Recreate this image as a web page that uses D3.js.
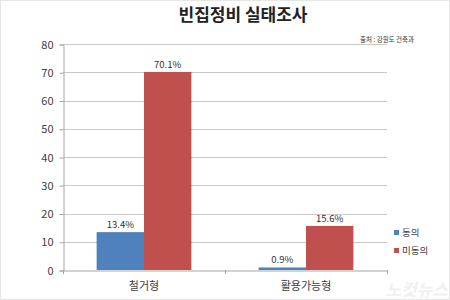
<!DOCTYPE html>
<html><head><meta charset="utf-8">
<script src="https://cdn.jsdelivr.net/npm/d3@7"></script>
<style>body{margin:0;background:#fff}svg{display:block}</style>
</head><body><svg id="c" width="450" height="300"></svg>
<script>
const categories = ["철거형", "활용가능형"];
const seriesNames = ["동의", "미동의"];
const agree = [13.4, 0.9];
const disagree = [70.1, 15.6];
const yTicks = [0, 10, 20, 30, 40, 50, 60, 70, 80];
const colors = ["#4F81BD", "#C0504D"];
const font = "'Noto Sans CJK KR', 'Noto Sans', sans-serif";

const svg = d3.select("#c");
svg.append("rect").attr("x",0.5).attr("y",0.5).attr("width",449).attr("height",299)
  .attr("fill","#fff").attr("stroke","#e6e6e6");

const pL = 63, pR = 387, pT = 44, pB = 270;
const x = d3.scaleBand().domain(categories).range([pL, pR]);
const xs = d3.scaleBand().domain(seriesNames).range([0, x.bandwidth()]).paddingInner(0).paddingOuter(0.71);
const y = d3.scaleLinear().domain([0, 80]).range([pB, pT]);

// gridlines
svg.append("g").selectAll("line").data(yTicks.filter(d=>d>0)).join("line")
  .attr("x1", pL).attr("x2", pR).attr("y1", d=>Math.round(y(d))+0.5).attr("y2", d=>Math.round(y(d))+0.5)
  .attr("stroke", "#c8c8c8");

// y axis
const yAxis = d3.axisLeft(y).tickValues(yTicks).tickSize(4).tickPadding(6);
const gy = svg.append("g").attr("transform", `translate(${pL+0.5},0.5)`).call(yAxis);
gy.select(".domain").attr("stroke", "#a6a6a6");
gy.selectAll(".tick line").attr("stroke", "#a6a6a6");
gy.selectAll("text").attr("font-family", font).attr("font-size", 11).attr("fill", "#404040");

// x axis
const xAxis = d3.axisBottom(x).tickSize(0).tickPadding(12);
const gx = svg.append("g").attr("transform", `translate(0,${pB+0.5})`).call(xAxis);
gx.select(".domain").attr("stroke", "#a6a6a6");
gx.selectAll("text").attr("font-family", font).attr("font-size", 11).attr("fill", "#404040");
// category boundary ticks
svg.append("g").selectAll("line").data([pL, x(categories[1]), pR]).join("line")
  .attr("x1", d=>Math.round(d)+0.5).attr("x2", d=>Math.round(d)+0.5)
  .attr("y1", pB).attr("y2", pB+4).attr("stroke", "#a6a6a6");

const data = categories.map((c,i)=>({c, vals:[agree[i], disagree[i]]}));
const groups = svg.append("g").selectAll("g").data(data).join("g")
  .attr("transform", d=>`translate(${x(d.c)},0)`);
groups.selectAll("rect").data(d=>d.vals.map((v,j)=>({k:seriesNames[j], v, j}))).join("rect")
  .attr("x", d=>xs(d.k)).attr("width", xs.bandwidth())
  .attr("y", d=>y(d.v)).attr("height", d=>pB - y(d.v))
  .attr("fill", d=>colors[d.j]);
groups.selectAll("text").data(d=>d.vals.map((v,j)=>({k:seriesNames[j], v, j}))).join("text")
  .attr("x", d=>xs(d.k)+xs.bandwidth()/2).attr("y", d=>y(d.v)-4)
  .attr("text-anchor","middle").attr("font-family", font).attr("font-size", 9.5).attr("fill","#303030")
  .text(d=>d.v.toFixed(1)+"%");

// title
svg.append("text").attr("x", 243).attr("y", 21).attr("text-anchor","middle")
  .attr("font-family", font).attr("font-weight","bold").attr("font-size", 17).attr("fill","#222")
  .text("빈집정비 실태조사");
svg.append("text").attr("x", 360).attr("y", 42)
  .attr("font-family", font).attr("font-size", 6.5).attr("fill","#333")
  .text("출처 : 강원도 건축과");

// legend
const lg = svg.append("g").selectAll("g").data(seriesNames).join("g")
  .attr("transform", (d,i)=>`translate(394,${233 + i*18})`);
lg.append("rect").attr("x",0).attr("y",-3).attr("width",5).attr("height",5).attr("fill",(d,i)=>colors[i]);
lg.append("text").attr("x",8).attr("y",3).attr("font-family", font).attr("font-size", 9.5).attr("fill","#404040").text(d=>d);

// watermark
svg.append("text").attr("x", 448).attr("y", 296).attr("text-anchor","end")
  .attr("font-family", font).attr("font-weight","bold").attr("font-size", 17).attr("fill","#f0f0f0")
  .attr("font-style","italic").text("노컷뉴스");
</script></body></html>
